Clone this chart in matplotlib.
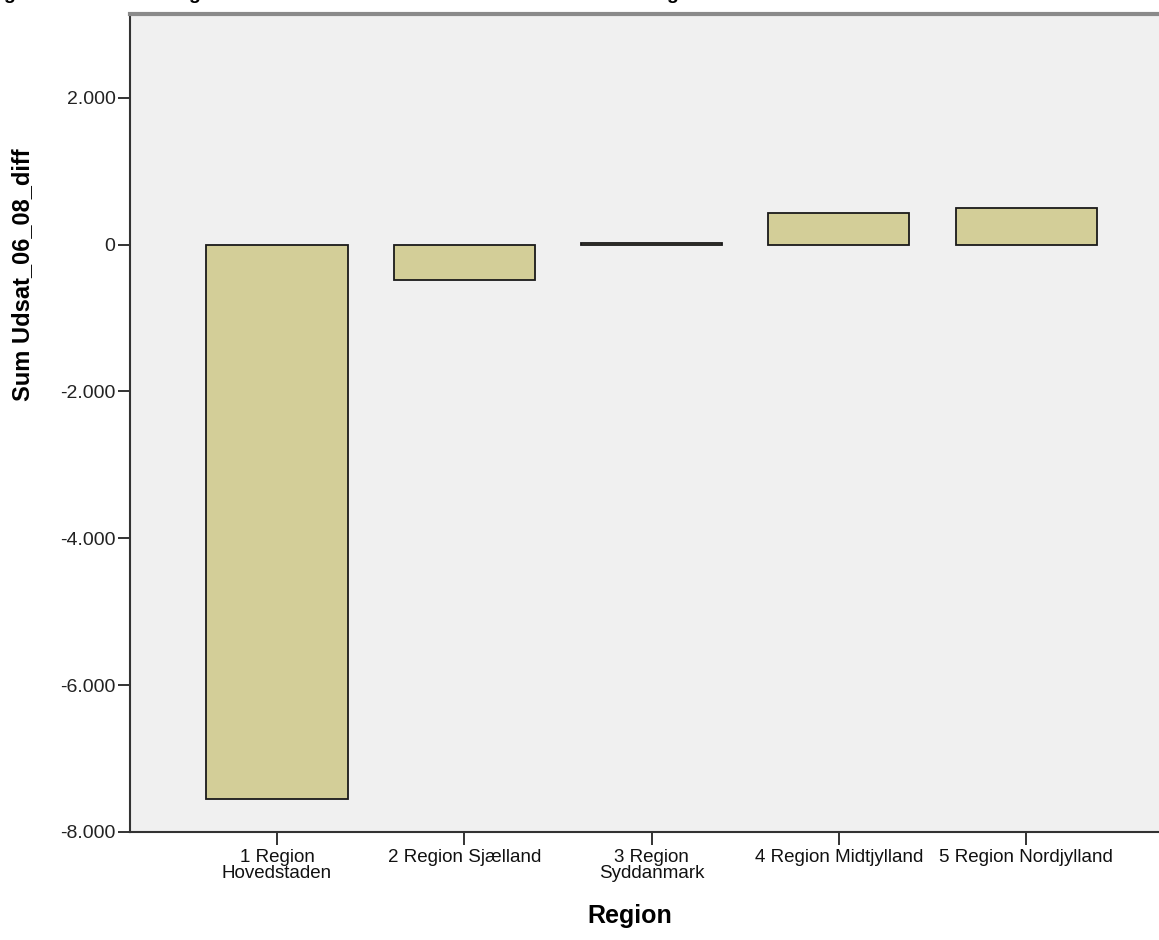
import matplotlib
matplotlib.use("Agg")
import matplotlib.pyplot as plt
from matplotlib.ticker import FuncFormatter, FixedLocator

plt.rcParams['font.family'] = ['Liberation Sans', 'DejaVu Sans']

regions = ["1 Region\nHovedstaden", "2 Region Sjælland", "3 Region\nSyddanmark",
           "4 Region Midtjylland", "5 Region Nordjylland"]
values = [-7550, -480, 15, 435, 495]
y_ticks = [-8000, -6000, -4000, -2000, 0, 2000]
y_label = "Sum Udsat_06_08_diff"
x_label = "Region"
# descenders of a cut-off title visible at the very top of the image
title_fragments = ["g", "g", "g"]
title_fragment_x = [3, 188, 666]

W, H = 1159, 940
fig = plt.figure(figsize=(W / 100, H / 100), dpi=100)
fig.patch.set_facecolor("white")
ax = fig.add_axes([130 / W, (H - 832) / H, (W - 130) / W, (832 - 14) / H])
ax.set_facecolor("#F0F0F0")

pos = list(range(1, len(values) + 1))
ax.bar(pos, values, width=0.753, color="#D3CE98", edgecolor="#1a1a1a",
       linewidth=1.3, zorder=3)

ax.set_xlim(0.215, 5.71)
ax.set_ylim(-8000, 3140)

ax.yaxis.set_major_locator(FixedLocator(y_ticks))
ax.yaxis.set_major_formatter(FuncFormatter(
    lambda v, p: f"{v:,.0f}".replace(",", ".")))
ax.set_xticks(pos)
ax.set_xticklabels(regions, fontsize=13.5, linespacing=0.9)

ax.tick_params(axis="y", length=8.5, width=1.4, color="#333333",
               labelsize=14, pad=2, labelcolor="#222222")
ax.tick_params(axis="x", length=9.5, width=1.4, color="#333333",
               pad=3, labelcolor="#111111")

for s in ["left", "bottom"]:
    ax.spines[s].set_color("#333333")
    ax.spines[s].set_linewidth(1.5)
ax.spines["top"].set_color("#8a8a8a")
ax.spines["top"].set_linewidth(3)
ax.spines["right"].set_visible(False)

ax.set_ylabel(y_label, fontsize=17, fontweight="bold")
ax.yaxis.set_label_coords(-0.093, 0.681)
ax.set_xlabel(x_label, fontsize=18, fontweight="bold")
ax.xaxis.set_label_coords(0.486, -0.088)
ax.xaxis.label.set_va("top")

for t, x in zip(title_fragments, title_fragment_x):
    fig.text(x / W, 1 + 1.5 / H, t, fontsize=14, fontweight="bold",
             ha="left", va="baseline")

plt.savefig("out.png", dpi=100, facecolor="white")
